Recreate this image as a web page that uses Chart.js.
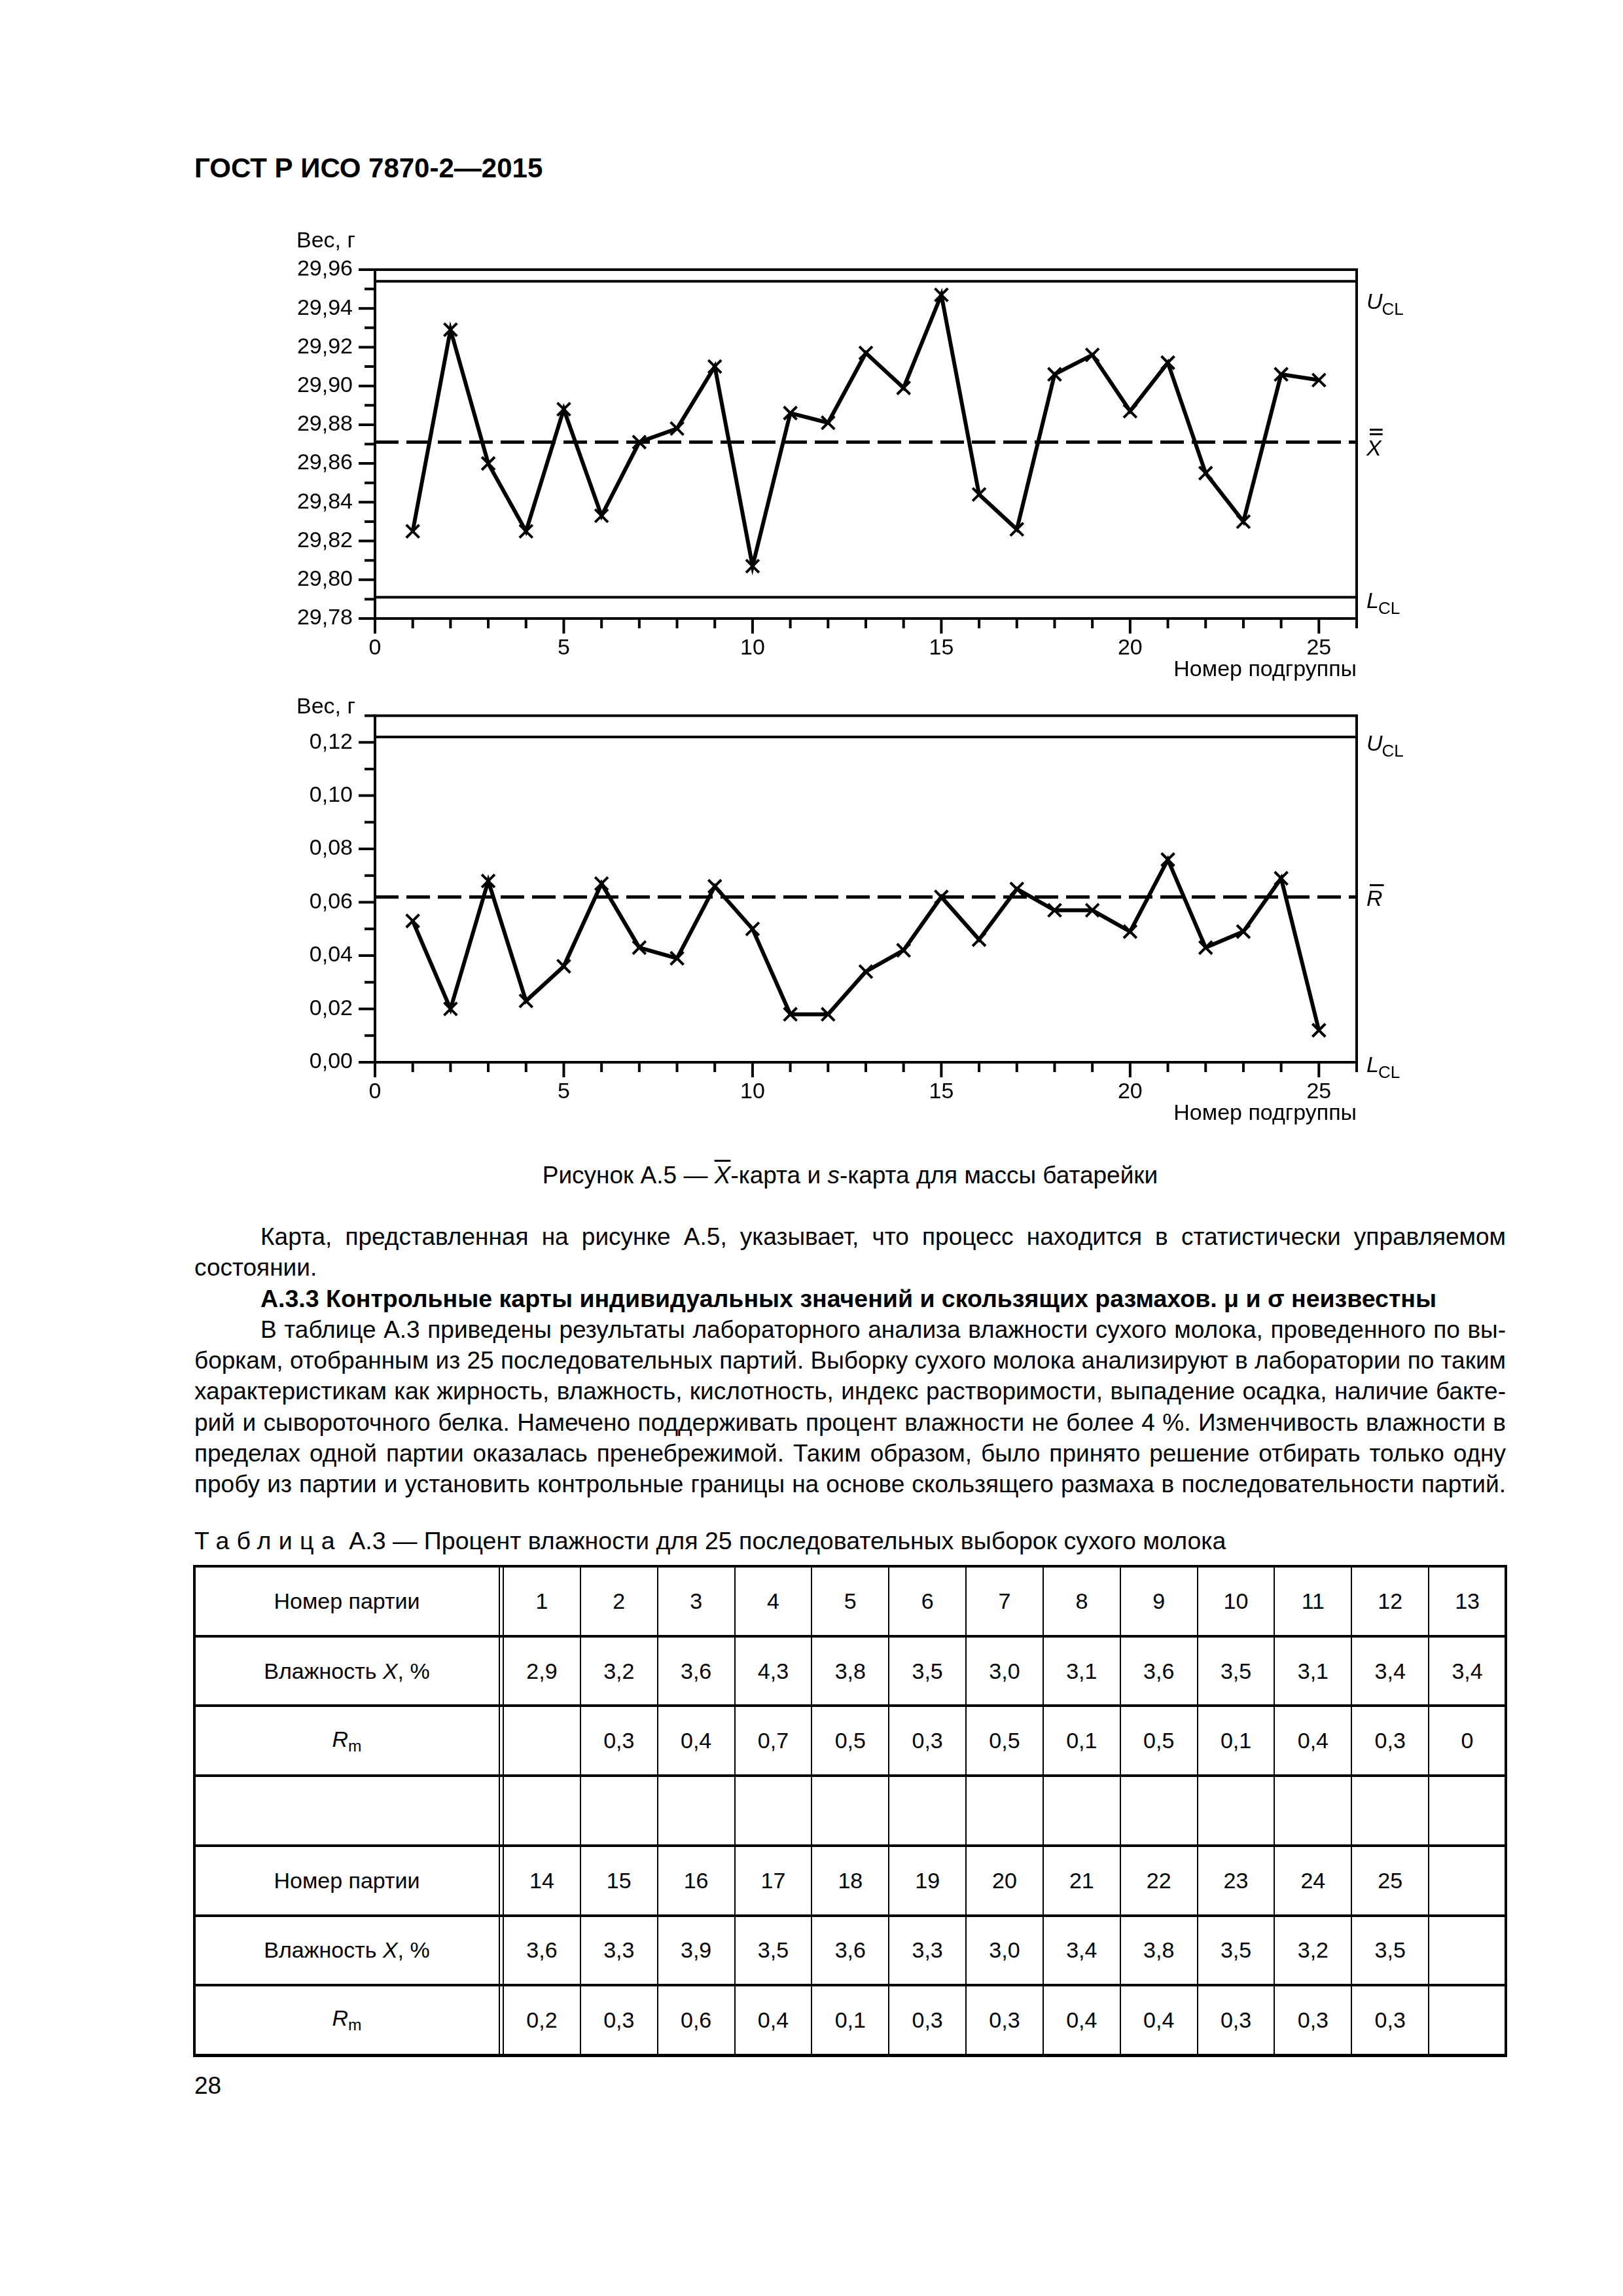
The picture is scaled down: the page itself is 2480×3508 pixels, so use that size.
<!DOCTYPE html>
<html><head><meta charset="utf-8">
<script src="https://cdn.jsdelivr.net/npm/chart.js@4.4.1/dist/chart.umd.min.js"></script>
<style>
html,body{margin:0;padding:0;background:#fff;}
body{width:2480px;height:3508px;position:relative;font-family:'Liberation Sans',Arial,sans-serif;color:#000;overflow:hidden;}
.abs{position:absolute;}
#hdr{left:297px;top:232px;font-size:42px;font-weight:bold;line-height:50px;white-space:nowrap;}
#cap{left:297px;width:2004px;top:1772px;font-size:37px;line-height:47px;text-align:center;white-space:nowrap;}
#body{left:297px;top:1866px;width:2004px;font-size:37px;line-height:47.25px;}
#body div{white-space:nowrap;}
.j{text-align:justify;text-align-last:justify;}
.ind{padding-left:101px;}
#ttl{left:297px;top:2331px;font-size:37.5px;line-height:47px;white-space:nowrap;}
.sp{letter-spacing:0.3em;}
.cell{position:absolute;display:flex;align-items:center;justify-content:center;font-size:34px;white-space:nowrap;}
.ln{position:absolute;background:#000;}
#pg{left:297px;top:3163px;font-size:37px;line-height:47px;}
sub{font-size:0.72em;vertical-align:-0.3em;}
canvas{position:absolute;}
</style>
</head>
<body>
<div id="hdr" class="abs">ГОСТ Р ИСО 7870-2—2015</div>

<canvas id="c1" width="1820" height="720" style="left:380px;top:330px"></canvas>
<canvas id="c2" width="1820" height="689" style="left:380px;top:1039px"></canvas>

<div id="cap" class="abs">Рисунок А.5 — <span style="font-style:italic;text-decoration:overline;">X</span>-карта и <i>s</i>-карта для массы батарейки</div>

<div id="body" class="abs">
<div class="j ind">Карта, представленная на рисунке А.5, указывает, что процесс находится в статистически управляемом</div>
<div>состоянии.</div>
<div class="ind" style="font-weight:bold;font-size:37.5px">А.3.3 Контрольные карты индивидуальных значений и скользящих размахов. μ и σ неизвестны</div>
<div class="j ind">В таблице А.3 приведены результаты лабораторного анализа влажности сухого молока, проведенного по вы-</div>
<div class="j">боркам, отобранным из 25 последовательных партий. Выборку сухого молока анализируют в лаборатории по таким</div>
<div class="j">характеристикам как жирность, влажность, кислотность, индекс растворимости, выпадение осадка, наличие бакте-</div>
<div class="j">рий и сывороточного белка. Намечено поддерживать процент влажности не более 4 %. Изменчивость влажности в</div>
<div class="j">пределах одной партии оказалась пренебрежимой. Таким образом, было принято решение отбирать только одну</div>
<div class="j">пробу из партии и установить контрольные границы на основе скользящего размаха в последовательности партий.</div>
</div>

<div id="ttl" class="abs"><span class="sp">Таблица</span> А.3 — Процент влажности для 25 последовательных выборок сухого молока</div>
<div id="tbl"></div>
<div id="pg" class="abs">28</div>

<script>
// ---------------- DATA ----------------
const subgroups = [1,2,3,4,5,6,7,8,9,10,11,12,13,14,15,16,17,18,19,20,21,22,23,24,25];
const xbarValues = [29.825,29.929,29.860,29.825,29.888,29.833,29.871,29.878,29.910,29.807,29.886,29.881,29.917,29.899,29.947,29.844,29.826,29.906,29.916,29.887,29.912,29.855,29.830,29.906,29.903];
const sValues = [0.053,0.020,0.068,0.023,0.036,0.067,0.043,0.039,0.066,0.050,0.018,0.018,0.034,0.042,0.062,0.046,0.065,0.057,0.057,0.049,0.076,0.043,0.049,0.069,0.012];
const xbarLimits = [29.954, 29.871, 29.791];   // UCL, centre line, LCL
const sLimits = [0.122, 0.062, 0.0];            // UCL, centre line, LCL
const xRange = [0, 26];
const xbarAxis = [29.78, 29.96, 0.01];          // min, max, step
const sAxis = [0, 0.13, 0.01];
const xLabelValues = [0, 5, 10, 15, 20, 25];
const yUnitLabel = 'Вес, г';
const xTitle = 'Номер подгруппы';

const batchNumbers = [1,2,3,4,5,6,7,8,9,10,11,12,13,14,15,16,17,18,19,20,21,22,23,24,25];
const moisture = [2.9,3.2,3.6,4.3,3.8,3.5,3.0,3.1,3.6,3.5,3.1,3.4,3.4,3.6,3.3,3.9,3.5,3.6,3.3,3.0,3.4,3.8,3.5,3.2,3.5];
const movingRange = [null,0.3,0.4,0.7,0.5,0.3,0.5,0.1,0.5,0.1,0.4,0.3,0,0.2,0.3,0.6,0.4,0.1,0.3,0.3,0.4,0.4,0.3,0.3,0.3];

// ---------------- CHARTS ----------------
Chart.defaults.font.family = "'Liberation Sans', Arial, sans-serif";
Chart.defaults.font.size = 34;
Chart.defaults.color = '#000';

const gostAxes = {
  id: 'gostAxes',
  afterDraw(chart, args, o) {
    const {ctx, chartArea: a, scales: {x, y}} = chart;
    ctx.save();
    ctx.strokeStyle = '#000';
    ctx.lineWidth = 4;
    ctx.lineCap = 'square';
    ctx.beginPath();
    ctx.moveTo(a.left, a.top); ctx.lineTo(a.right, a.top);
    ctx.moveTo(a.left, a.top); ctx.lineTo(a.left, a.bottom);
    ctx.moveTo(a.left, a.bottom); ctx.lineTo(a.right, a.bottom);
    ctx.moveTo(a.right, a.top); ctx.lineTo(a.right, a.bottom);
    ctx.stroke();
    ctx.lineCap = 'butt';
    ctx.beginPath();
    y.ticks.forEach(t => {
      const py = y.getPixelForValue(t.value);
      const len = t.label ? 25 : 16;
      ctx.moveTo(a.left, py); ctx.lineTo(a.left - len, py);
    });
    x.ticks.forEach(t => {
      const px = x.getPixelForValue(t.value);
      const len = t.label ? 23 : 15;
      ctx.moveTo(px, a.bottom); ctx.lineTo(px, a.bottom + len);
    });
    ctx.stroke();
    // unit label
    ctx.fillStyle = '#000';
    ctx.font = "34px 'Liberation Sans', Arial, sans-serif";
    ctx.textBaseline = 'middle';
    ctx.textAlign = 'left';
    ctx.fillText(o.unit, o.unitX, a.top - o.unitDy);
    // right-hand labels
    o.labels.forEach(l => {
      const x0 = a.right + 15;
      const yc = y.getPixelForValue(l.v) + l.dy;
      const base = yc + 12;
      ctx.textBaseline = 'alphabetic';
      ctx.font = "italic 34px 'Liberation Sans', Arial, sans-serif";
      ctx.fillText(l.main, x0, base);
      const w = ctx.measureText(l.main).width;
      if (l.sub) {
        ctx.font = "26px 'Liberation Sans', Arial, sans-serif";
        ctx.fillText(l.sub, x0 + w - 1, base + 9);
      }
      ctx.lineWidth = 3;
      ctx.beginPath();
      for (let b = 0; b < (l.bars || 0); b++) {
        const by = base - 24 - 8 - b * 7;
        ctx.moveTo(x0 + 5, by); ctx.lineTo(x0 + w + 2, by);
      }
      ctx.stroke();
    });
    ctx.restore();
  }
};

function makeChart(id, values, limits, axis, padTop, unitDy, labels) {
  const fmt = v => v.toFixed(2).replace('.', ',');
  return new Chart(document.getElementById(id), {
    type: 'line',
    data: {
      datasets: [
        { data: subgroups.map((s, i) => ({x: s, y: values[i]})), borderColor: '#000', borderWidth: 6,
          pointStyle: 'crossRot', pointRadius: 14, pointBorderWidth: 4, pointBorderColor: '#000',
          pointBackgroundColor: '#000', tension: 0, order: 0, fill: false },
        { data: xRange.map(v => ({x: v, y: limits[0]})), borderColor: '#000', borderWidth: 4, pointRadius: 0, order: 1, fill: false },
        { data: xRange.map(v => ({x: v, y: limits[1]})), borderColor: '#000', borderWidth: 5, borderDash: [36, 12], pointRadius: 0, order: 1, fill: false },
        { data: xRange.map(v => ({x: v, y: limits[2]})), borderColor: '#000', borderWidth: 4, pointRadius: 0, order: 1, fill: false }
      ]
    },
    options: {
      responsive: false, animation: false, devicePixelRatio: 1,
      layout: {padding: {top: padTop, right: 127, left: 0, bottom: 0}},
      plugins: {
        legend: {display: false}, tooltip: {enabled: false},
        gostAxes: {unit: yUnitLabel, unitX: 73, unitDy: unitDy, labels: labels}
      },
      scales: {
        x: {
          type: 'linear', min: xRange[0], max: xRange[1],
          afterFit: s => { s.height = 105; },
          grid: {display: false, drawTicks: false}, border: {display: false},
          ticks: {stepSize: 1, autoSkip: false, maxRotation: 0, minRotation: 0, padding: 25, color: '#000',
            callback: v => xLabelValues.includes(v) ? String(v) : ''},
          title: {display: true, text: xTitle, align: 'end', color: '#000', font: {size: 34}, padding: {top: 0, bottom: 6}}
        },
        y: {
          type: 'linear', min: axis[0], max: axis[1],
          afterFit: s => { s.width = 193; },
          grid: {display: false, drawTicks: false}, border: {display: false},
          ticks: {stepSize: axis[2], autoSkip: false, padding: 34, color: '#000',
            callback: v => (Math.round(v * 100) % 2 === 0) ? fmt(v) : ''}
        }
      }
    },
    plugins: [gostAxes]
  });
}

makeChart('c1', xbarValues, xbarLimits, xbarAxis, 82, 43, [
  {v: xbarLimits[0], dy: 30, main: 'U', sub: 'CL'},
  {v: xbarLimits[1], dy: 8, main: 'X', bars: 2},
  {v: xbarLimits[2], dy: 5, main: 'L', sub: 'CL'}
]);
makeChart('c2', sValues, sLimits, sAxis, 50, 13, [
  {v: sLimits[0], dy: 9, main: 'U', sub: 'CL'},
  {v: sLimits[1], dy: 2, main: 'R', bars: 1},
  {v: sLimits[2], dy: 3, main: 'L', sub: 'CL'}
]);

// ---------------- TABLE ----------------
(function () {
  const host = document.getElementById('tbl');
  const tLeft = 297, tRight = 2301, tTop = 2393, rowH = 106.7;
  const col0R = 763, dataL = 769, ncol = 13, colW = (tRight - dataL) / ncol;
  const fmt1 = v => v.toFixed(1).replace('.', ',');
  const fmtR = v => v === null ? '' : (v === 0 ? '0' : fmt1(v));
  const blank = n => Array(n).fill('');
  const rows = [
    ['Номер партии', batchNumbers.slice(0, 13).map(String)],
    ['Влажность&nbsp;<i>X</i>, %', moisture.slice(0, 13).map(fmt1)],
    ['<i>R</i><sub>m</sub>', movingRange.slice(0, 13).map(fmtR)],
    ['', blank(13)],
    ['Номер партии', batchNumbers.slice(13).map(String).concat([''])],
    ['Влажность&nbsp;<i>X</i>, %', moisture.slice(13).map(fmt1).concat([''])],
    ['<i>R</i><sub>m</sub>', movingRange.slice(13).map(fmtR).concat([''])]
  ];
  let html = '';
  const cell = (x0, x1, y0, y1, txt) =>
    `<div class="cell" style="left:${x0}px;top:${y0}px;width:${x1 - x0}px;height:${y1 - y0}px"><span>${txt}</span></div>`;
  const line = (x, y, w, h) => `<div class="ln" style="left:${x}px;top:${y}px;width:${w}px;height:${h}px"></div>`;
  rows.forEach((r, i) => {
    const y0 = tTop + i * rowH, y1 = y0 + rowH;
    html += cell(tLeft, col0R, y0, y1, r[0]);
    r[1].forEach((t, k) => { html += cell(dataL + k * colW, dataL + (k + 1) * colW, y0, y1, t); });
  });
  for (let i = 0; i <= rows.length; i++) {
    const y = tTop + i * rowH;
    html += line(tLeft - 2, y - 2, tRight - tLeft + 4, (i === rows.length) ? 5 : 4);
  }
  const H = rows.length * rowH;
  html += line(tLeft - 2, tTop, 4, H);
  html += line(tRight - 2, tTop, 4, H);
  html += line(col0R - 1, tTop, 2, H);
  html += line(col0R + 5, tTop, 2, H);
  for (let k = 1; k < ncol; k++) html += line(dataL + k * colW - 1, tTop, 2, H);
  host.innerHTML = html;
})();
</script>
</body></html>
